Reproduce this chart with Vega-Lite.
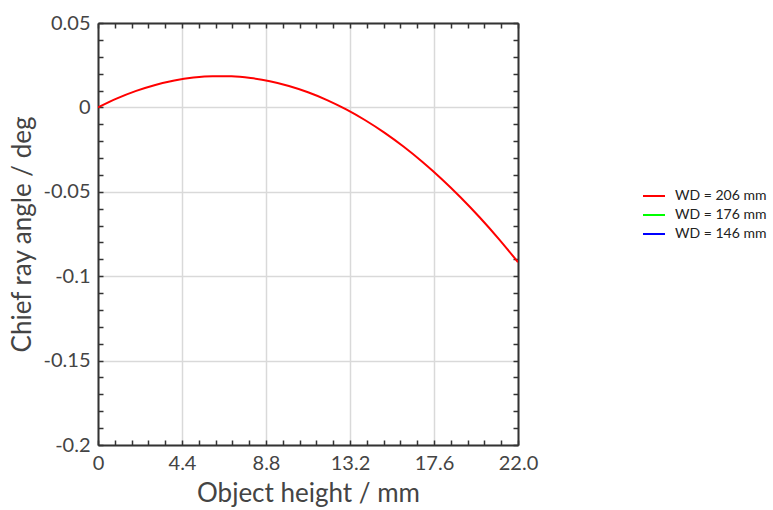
{
  "$schema": "https://vega.github.io/schema/vega-lite/v6.json",
  "width": 420,
  "height": 422,
  "autosize": "none",
  "padding": {"left": 98, "top": 23, "right": 255, "bottom": 65},
  "background": "white",
  "config": {
    "view": {"stroke": null},
    "font": "Lato",
    "axis": {
      "domainColor": "#333333",
      "domainWidth": 2,
      "tickColor": "#333333",
      "tickWidth": 1.5,
      "tickSize": -5,
      "labelFont": "Lato",
      "labelFontSize": 20,
      "labelColor": "#444444",
      "titleFont": "Lato",
      "titleFontSize": 26,
      "titleColor": "#444444",
      "titleFontWeight": "normal",
      "gridColor": "#d9d9d9",
      "gridWidth": 1.5
    }
  },
  "data": {
    "values": [
      {"h": 0, "angle": 0, "series": "WD = 206 mm"},
      {"h": 1, "angle": 0.005345, "series": "WD = 206 mm"},
      {"h": 2, "angle": 0.009785, "series": "WD = 206 mm"},
      {"h": 3, "angle": 0.013318, "series": "WD = 206 mm"},
      {"h": 4, "angle": 0.015946, "series": "WD = 206 mm"},
      {"h": 5, "angle": 0.017667, "series": "WD = 206 mm"},
      {"h": 6, "angle": 0.018482, "series": "WD = 206 mm"},
      {"h": 7, "angle": 0.018392, "series": "WD = 206 mm"},
      {"h": 8, "angle": 0.017395, "series": "WD = 206 mm"},
      {"h": 9, "angle": 0.015493, "series": "WD = 206 mm"},
      {"h": 10, "angle": 0.012684, "series": "WD = 206 mm"},
      {"h": 11, "angle": 0.008969, "series": "WD = 206 mm"},
      {"h": 12, "angle": 0.004349, "series": "WD = 206 mm"},
      {"h": 13, "angle": -0.001178, "series": "WD = 206 mm"},
      {"h": 14, "angle": -0.00761, "series": "WD = 206 mm"},
      {"h": 15, "angle": -0.014949, "series": "WD = 206 mm"},
      {"h": 16, "angle": -0.023194, "series": "WD = 206 mm"},
      {"h": 17, "angle": -0.032344, "series": "WD = 206 mm"},
      {"h": 18, "angle": -0.042401, "series": "WD = 206 mm"},
      {"h": 19, "angle": -0.053363, "series": "WD = 206 mm"},
      {"h": 20, "angle": -0.065232, "series": "WD = 206 mm"},
      {"h": 21, "angle": -0.078007, "series": "WD = 206 mm"},
      {"h": 22, "angle": -0.091687, "series": "WD = 206 mm"}
    ]
  },
  "layer": [
    {
      "mark": {"type": "line", "strokeWidth": 2, "interpolate": "monotone", "clip": true},
      "encoding": {
        "x": {
          "field": "h",
          "type": "quantitative",
          "scale": {"domain": [0, 22], "nice": false, "zero": false},
          "axis": {
            "orient": "bottom",
            "title": "Object height / mm",
            "titlePadding": 7,
            "values": [0, 0.88, 1.76, 2.64, 3.52, 4.4, 5.28, 6.16, 7.04, 7.92, 8.8, 9.68, 10.56, 11.44, 12.32, 13.2, 14.08, 14.96, 15.84, 16.72, 17.6, 18.48, 19.36, 20.24, 21.12, 22],
            "labelExpr": "abs(datum.value/4.4 - round(datum.value/4.4)) < 0.001 ? (datum.value == 0 ? '0' : format(datum.value, '.1f')) : ''",
            "labelPadding": 13,
            "labelFlush": false,
            "labelOverlap": false,
            "grid": true,
            "gridOpacity": {"condition": {"test": "abs(datum.value/4.4 - round(datum.value/4.4)) < 0.001", "value": 1}, "value": 0}
          }
        },
        "y": {
          "field": "angle",
          "type": "quantitative",
          "scale": {"domain": [-0.2, 0.05], "nice": false, "zero": false},
          "axis": {
            "orient": "left",
            "title": "Chief ray angle / deg",
            "titlePadding": 8,
            "values": [-0.2, -0.19, -0.18, -0.17, -0.16, -0.15, -0.14, -0.13, -0.12, -0.11, -0.1, -0.09, -0.08, -0.07, -0.06, -0.05, -0.04, -0.03, -0.02, -0.01, 0, 0.01, 0.02, 0.03, 0.04, 0.05],
            "labelExpr": "abs(datum.value/0.05 - round(datum.value/0.05)) < 0.001 ? (datum.value + '') : ''",
            "labelPadding": 13,
            "labelFlush": false,
            "labelOverlap": false,
            "grid": true,
            "gridOpacity": {"condition": {"test": "abs(datum.value/0.05 - round(datum.value/0.05)) < 0.001", "value": 1}, "value": 0}
          }
        },
        "color": {
          "field": "series",
          "type": "nominal",
          "scale": {"domain": ["WD = 206 mm", "WD = 176 mm", "WD = 146 mm"], "range": ["#ff0000", "#00ff00", "#0000ff"]},
          "sort": null,
          "legend": {
            "orient": "none",
            "legendX": 544,
            "legendY": 161,
            "title": null,
            "symbolType": "stroke",
            "symbolSize": 484,
            "symbolStrokeWidth": 2,
            "labelFont": "Lato",
            "labelFontSize": 14,
            "labelColor": "#222222",
            "labelOffset": 9,
            "labelLimit": 200,
            "rowPadding": 0
          }
        }
      }
    },
    {
      "mark": {"type": "point", "opacity": 0},
      "encoding": {
        "x": {
          "field": "h",
          "type": "quantitative",
          "axis": {
            "orient": "top",
            "title": null,
            "labels": false,
            "grid": false,
            "values": [0, 0.88, 1.76, 2.64, 3.52, 4.4, 5.28, 6.16, 7.04, 7.92, 8.8, 9.68, 10.56, 11.44, 12.32, 13.2, 14.08, 14.96, 15.84, 16.72, 17.6, 18.48, 19.36, 20.24, 21.12, 22]
          }
        },
        "y": {
          "field": "angle",
          "type": "quantitative",
          "axis": {
            "orient": "right",
            "title": null,
            "labels": false,
            "grid": false,
            "values": [-0.2, -0.19, -0.18, -0.17, -0.16, -0.15, -0.14, -0.13, -0.12, -0.11, -0.1, -0.09, -0.08, -0.07, -0.06, -0.05, -0.04, -0.03, -0.02, -0.01, 0, 0.01, 0.02, 0.03, 0.04, 0.05]
          }
        }
      }
    }
  ],
  "resolve": {"axis": {"x": "independent", "y": "independent"}}
}
